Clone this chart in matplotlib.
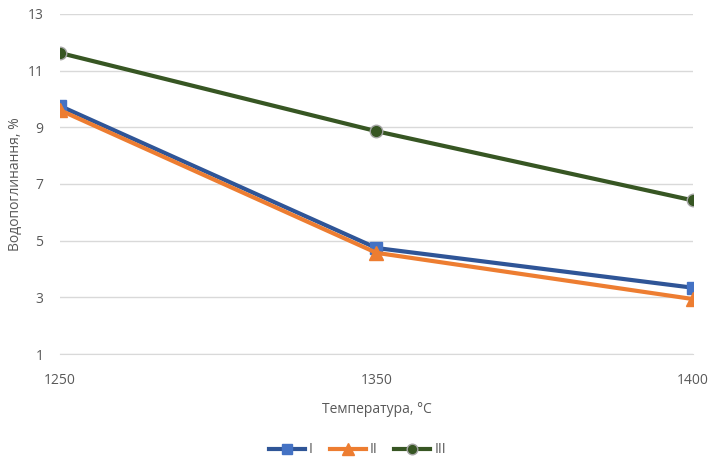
import matplotlib.pyplot as plt

# температура випалу та водопоглинання зразків
temps = ['1250', '1350', '1400']
series_I = [9.75, 4.74, 3.34]
series_II = [9.60, 4.57, 2.94]
series_III = [11.62, 8.86, 6.42]

plt.rcParams['font.family'] = ['Open Sans', 'DejaVu Sans']

fig = plt.figure(figsize=(7.15, 4.61), dpi=100)
ax = fig.add_axes([0.084, 0.232, 0.885, 0.738])

x = range(len(temps))
ax.plot(x, series_I, color='#2F5597', lw=3, marker='s', ms=9,
        mfc='#4472C4', mec='#4472C4', label='I', zorder=3)
ax.plot(x, series_II, color='#ED7D31', lw=3, marker='^', ms=10,
        mfc='#ED7D31', mec='#ED7D31', label='II', zorder=3)
ax.plot(x, series_III, color='#375623', lw=3, marker='o', ms=9,
        mfc='#375623', mec='#A5A5A5', mew=1, label='III', zorder=3)

ax.set_xlim(0, 2)
ax.set_ylim(1, 13)
ax.set_yticks(range(1, 14, 2))
ax.set_xticks(list(x))
ax.set_xticklabels(temps)
ax.grid(axis='y', color='#D9D9D9', lw=1)
ax.set_axisbelow(True)
for side in ['top', 'right', 'left']:
    ax.spines[side].set_visible(False)
ax.spines['bottom'].set_color('#D9D9D9')
ax.tick_params(length=0, colors='#595959', labelsize=10)
ax.tick_params(axis='x', pad=14)
ax.tick_params(axis='y', pad=12)

ax.set_xlabel('Температура, °C', color='#595959', fontsize=10, labelpad=10)
ax.set_ylabel('Водопоглинання, %', color='#595959', fontsize=10)
ax.yaxis.set_label_coords(-0.058, 0.5)

fig.legend(handles=ax.get_lines(), loc='center', bbox_to_anchor=(0.5, 0.024), ncol=3,
           frameon=False, fontsize=10, labelcolor='#595959', handlelength=2.6,
           handletextpad=0.3, columnspacing=1.2, borderpad=0, markerscale=0.85)

fig.savefig('out.png')
